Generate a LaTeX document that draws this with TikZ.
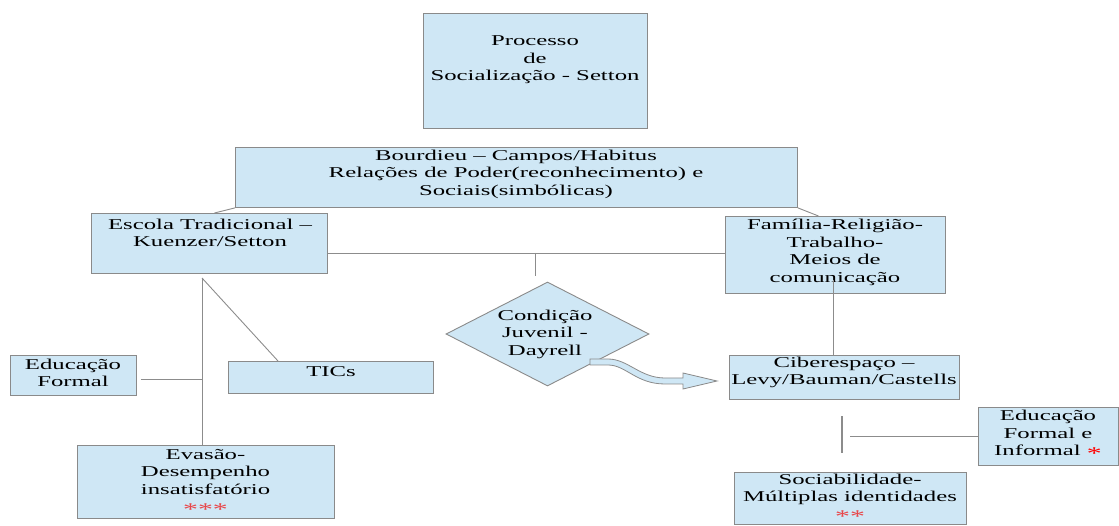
\documentclass[tikz,border=0pt]{standalone}
\usepackage{fontspec}
\setmainfont{Liberation Serif}
\usepackage{graphicx}
\usetikzlibrary{shapes.geometric,calc}
\definecolor{boxfill}{HTML}{CFE7F5}
\definecolor{boxline}{HTML}{8A8A8A}
\definecolor{connc}{HTML}{8C8C8C}
\definecolor{starred}{HTML}{E8474A}
\newcommand{\btext}[1]{\scalebox{1.65}[1]{\begin{tabular}{@{}c@{}}#1\end{tabular}}}
\newcommand{\starmk}[2]{\textcolor{#1}{\raisebox{-3.5pt}{\fontsize{18}{17.5}\selectfont #2}}}
\begin{document}
\begin{tikzpicture}[x=1pt,y=-1pt,
  box/.style={draw=boxline, fill=boxfill, line width=0.9pt, inner sep=0, anchor=north west},
  txt/.style={inner sep=0, font=\fontsize{15}{17.5}\selectfont},
  conn/.style={draw=connc, line width=0.9pt}]
\useasboundingbox (0,0) rectangle (1119,526);
% boxes
\node[box, minimum width=224, minimum height=115] (proc) at (423,13) {};
\node[box, minimum width=562, minimum height=60] (bour) at (235,147) {};
\node[box, minimum width=236, minimum height=60] (esc) at (91,213) {};
\node[box, minimum width=220, minimum height=77] (fam) at (725,216) {};
\node[box, minimum width=126, minimum height=40] (educ1) at (10,355) {};
\node[box, minimum width=205, minimum height=32] (tics) at (228,361) {};
\node[box, minimum width=257, minimum height=73] (evas) at (77,445) {};
\node[box, minimum width=230, minimum height=44] (cib) at (729,355) {};
\node[box, minimum width=140, minimum height=58] (educ2) at (978,407) {};
\node[box, minimum width=232, minimum height=52] (soc) at (734,472) {};
\node[diamond, draw=boxline, fill=boxfill, line width=0.9pt, inner sep=0,
      minimum width=203, minimum height=104] (dia) at (547.5,334) {};
% texts
\node[txt] (proc-t) at (535,60) {\btext{Processo\\de\\Socialização - Setton}};
\node[txt] (bour-t) at (516,174.5) {\btext{Bourdieu – Campos/Habitus\\Relações de Poder(reconhecimento) e\\Sociais(simbólicas)}};
\node[txt] (esc-t) at (210,234.5) {\btext{Escola Tradicional –\\Kuenzer/Setton}};
\node[txt] (fam-t) at (835,252.5) {\btext{Família-Religião-\\Trabalho-\\Meios de\\comunicação}};
\node[txt] (dia-t) at (545,334.5) {\btext{Condição\\Juvenil -\\Dayrell}};
\node[txt] (educ1-t) at (73,374.5) {\btext{Educação\\Formal}};
\node[txt] (tics-t) at (331,373) {\btext{TICs}};
\node[txt] (evas-t) at (205.5,482) {\btext{Evasão-\\Desempenho\\insatisfatório\\\starmk{starred}{***}}};
\node[txt] (cib-t) at (844,372.5) {\btext{Ciberespaço –\\Levy/Bauman/Castells}};
\node[txt] (educ2-t) at (1048,434.5) {\btext{Educação\\Formal e\\Informal \starmk{red}{*}}};
\node[txt] (soc-t) at (850,498) {\btext{Sociabilidade-\\Múltiplas identidades\\\starmk{starred}{**}}};
% connectors
\coordinate (j) at (535,253);
\coordinate (stub) at (535,276);
\coordinate (apex) at (202,278);
\draw[conn] (bour.south west) -- ($(esc.north)+(5,0)$);
\draw[conn] (bour.south east) -- ($(fam.north)+(-17,0)$);
\draw[conn] (esc.east |- j) -- (fam.west |- j);
\draw[conn] (j) -- (stub);
\draw[conn] (apex) -- (apex |- evas.north);
\draw[conn] (apex) -- ($(tics.north west)+(50,0)$);
\draw[conn] ($(educ1.east)+(4,4)$) -- ++(62,0);
\draw[conn] ($(cib.north)+(-11,-75)$) -- ($(cib.north)+(-11,0)$);
\coordinate (s1) at (842,416);
\draw[conn, line width=1.6pt] (s1) -- ++(0,37);
\draw[conn] (educ2.west) -- ++(-128,0);
% block arrow from diamond to Ciberespaco
\draw[draw=boxline, fill=boxfill, line width=0.8pt]
  (590,359) -- (608,359) .. controls (628,359) and (640,378) .. (665,378)
  -- (683,378) -- (683,373) -- (717,381) -- (683,389) -- (683,384) -- (665,384)
  .. controls (636,384) and (626,365) .. (608,365) -- (590,365) -- cycle;
\end{tikzpicture}
\end{document}
